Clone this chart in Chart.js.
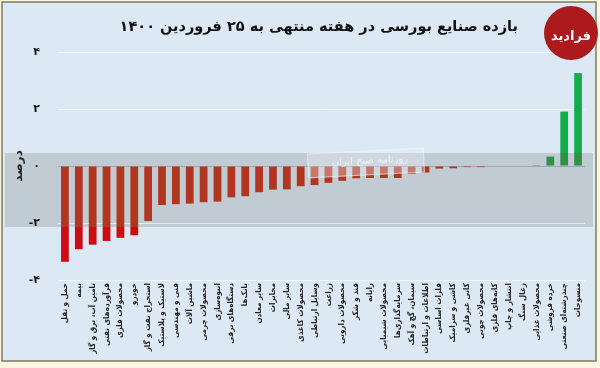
<!DOCTYPE html>
<html lang="fa">
<head>
<meta charset="utf-8">
<script src="https://cdn.jsdelivr.net/npm/chart.js@4.4.0/dist/chart.umd.min.js"></script>
<style>
  html, body { margin: 0; padding: 0; background: #fbf6e1; }
  #box { position: relative; width: 600px; height: 368px; }
</style>
</head>
<body>
<div id="box"><canvas id="chart" width="600" height="368"></canvas></div>
<script>
/* ===== data ===== */
const categories = [
  "حمل و نقل", "بیمه", "تامین آب، برق و گاز", "فرآورده‌های نفتی", "محصولات فلزی",
  "خودرو", "استخراج نفت و گاز", "لاستیک و پلاستیک", "فنی و مهندسی", "ماشین آلات",
  "محصولات چرمی", "انبوه‌سازی", "دستگاه‌های برقی", "بانک‌ها", "سایر معادن",
  "مخابرات", "سایر مالی", "محصولات کاغذی", "وسایل ارتباطی", "زراعت",
  "محصولات دارویی", "قند و شکر", "رایانه", "محصولات شیمیایی", "سرمایه‌گذاری‌ها",
  "سیمان، گچ و آهک", "اطلاعات و ارتباطات", "فلزات اساسی", "کاشی و سرامیک", "کانی غیرفلزی",
  "محصولات چوبی", "کانه‌های فلزی", "انتشار و چاپ", "زغال سنگ", "محصولات غذایی",
  "خرده فروشی", "چندرشته‌ای صنعتی", "منسوجات"
];
const returns = [
  -3.36, -2.92, -2.76, -2.63, -2.52,
  -2.43, -1.93, -1.37, -1.34, -1.32,
  -1.27, -1.25, -1.10, -1.06, -0.92,
  -0.83, -0.82, -0.71, -0.67, -0.59,
  -0.52, -0.43, -0.42, -0.42, -0.42,
  -0.27, -0.23, -0.09, -0.08, -0.04,
  -0.04, 0, 0, 0, 0.03,
  0.33, 1.91, 3.26
];
const tickValues = [4, 2, 0, -2, -4];
const tickLabels = ["۴", "۲", "۰", "-۲", "-۴"];
const titleText = "بازده صنایع بورسی در هفته منتهی به ۲۵ فروردین ۱۴۰۰";
const axisTitle = "درصد";
const logoText = "فرادید";
const stampText = "روزنامه صبح ایران";

const FONT = "'DejaVu Sans', sans-serif";
const LABEL_FONT = "'DejaVu Sans Condensed', 'DejaVu Sans', sans-serif";
const BAND_TOP = 153, BAND_BOTTOM = 227;

/* frame + background */
const framePlugin = {
  id: "frame",
  beforeDraw(chart) {
    const c = chart.ctx;
    c.save();
    c.fillStyle = "#fbf6e1";
    c.fillRect(0, 0, 600, 368);
    c.fillStyle = "#dce9f5";
    c.fillRect(2, 2, 594, 359);
    c.strokeStyle = "#7c7b5e";
    c.lineWidth = 1.5;
    c.strokeRect(2, 2, 594, 359);
    // grey watermark band behind the bars
    c.fillStyle = "#c1cbd4";
    c.fillRect(5, BAND_TOP, 588, BAND_BOTTOM - BAND_TOP);
    c.restore();
  }
};

/* title + logo + stamp */
const headerPlugin = {
  id: "header",
  afterDraw(chart) {
    const c = chart.ctx;
    c.save();
    c.fillStyle = "#111";
    c.font = "bold 14.5px " + FONT;
    c.textAlign = "right";
    c.textBaseline = "middle";
    c.fillText(titleText, 518, 27);

    c.beginPath();
    c.arc(571, 33, 27, 0, Math.PI * 2);
    c.fillStyle = "#ac1a1d";
    c.fill();
    c.fillStyle = "#fff";
    c.font = "bold 13px " + FONT;
    c.textAlign = "center";
    c.fillText(logoText, 571, 37);

    // faint newspaper stamp
    c.translate(366, 163);
    c.rotate(-0.05);
    c.fillStyle = "rgba(235,242,248,0.35)";
    c.strokeStyle = "rgba(240,245,250,0.6)";
    c.lineWidth = 1;
    c.fillRect(-58, -12, 116, 24);
    c.strokeRect(-58, -12, 116, 24);
    c.fillStyle = "rgba(245,248,252,0.8)";
    c.font = "10px " + FONT;
    c.fillText(stampText, 4, -2);
    c.restore();
  }
};

// bars are darker where they cross the grey band
function barFill(ctx) {
  const v = returns[ctx.dataIndex];
  const out = v >= 0 ? "#13ad4b" : "#cc0c12";
  const inside = v >= 0 ? "#2f9148" : "#b1361f";
  const g = ctx.chart.ctx.createLinearGradient(0, 0, 0, 368);
  g.addColorStop(0, out);
  g.addColorStop(BAND_TOP / 368, out);
  g.addColorStop(BAND_TOP / 368, inside);
  g.addColorStop(BAND_BOTTOM / 368, inside);
  g.addColorStop(BAND_BOTTOM / 368, out);
  g.addColorStop(1, out);
  return g;
}

new Chart(document.getElementById("chart"), {
  type: "bar",
  data: {
    labels: categories,
    datasets: [{
      data: returns,
      backgroundColor: barFill,
      barPercentage: 0.56,
      categoryPercentage: 1
    }]
  },
  options: {
    responsive: false,
    animation: false,
    devicePixelRatio: 1,
    layout: { padding: { left: 8, right: 15, top: 52, bottom: 4 } },
    plugins: { legend: { display: false }, tooltip: { enabled: false } },
    scales: {
      x: {
        grid: { display: false, drawTicks: false },
        border: { display: false },
        ticks: {
          autoSkip: false, minRotation: 90, maxRotation: 90, padding: 3,
          color: "#222", font: { family: LABEL_FONT, size: 8, weight: "bold" }
        },
        afterFit: s => { s.height = 84; }
      },
      y: {
        min: -4, max: 4,
        afterBuildTicks: s => { s.ticks = tickValues.map(v => ({ value: v })); },
        grid: {
          drawTicks: false,
          color: ctx => ctx.tick && ctx.tick.value === 0 ? "rgba(150,150,150,0.7)" : "rgba(255,255,255,0.6)"
        },
        border: { display: false },
        ticks: {
          padding: 18, color: "#111",
          font: { family: FONT, size: 11, weight: "bold" },
          callback: v => tickLabels[tickValues.indexOf(v)]
        },
        title: {
          display: true, text: axisTitle, color: "#222", padding: { top: 4, bottom: 0 },
          font: { family: FONT, size: 12, weight: "bold" }
        },
        afterFit: s => { s.width = 50; }
      }
    }
  },
  plugins: [framePlugin, headerPlugin]
});
</script>
</body>
</html>
